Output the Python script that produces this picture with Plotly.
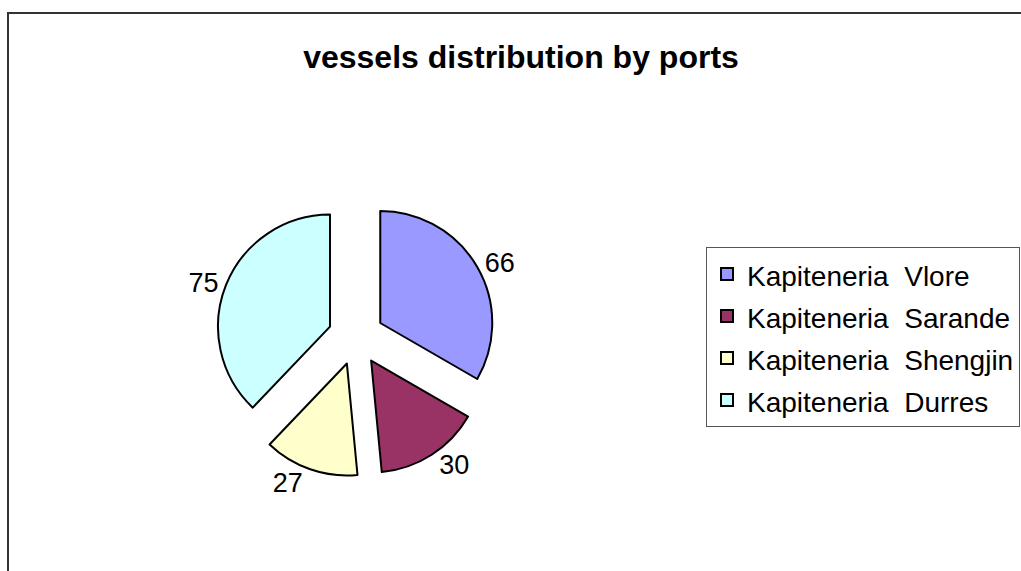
import plotly.graph_objects as go

W, H = 1021, 571

ports = ["Kapiteneria  Vlore", "Kapiteneria  Sarande", "Kapiteneria  Shengjin", "Kapiteneria  Durres"]
vessels = [66, 30, 27, 75]
colors = ["#9999FF", "#993366", "#FFFFCC", "#CCFFFF"]
pulls = [0.25, 0.25, 0.25, 0.25]

title_text = "vessels distribution by ports"

legend_labels = ['<span style="font-size:28px">' + p.replace(" ", "\u00a0") + "</span>" for p in ports]

# pie box in pixels (centre 356,337 ; radius 112 ; pull 0.25)
cx, cy, r = 356, 337, 112
half = r * (1 + max(pulls))
dom_x = [(cx - half) / W, (cx + half) / W]
dom_y = [1 - (cy + half) / H, 1 - (cy - half) / H]

fig = go.Figure(
    go.Pie(
        labels=legend_labels,
        values=vessels,
        sort=False,
        direction="clockwise",
        rotation=0,
        pull=pulls,
        marker=dict(colors=colors, line=dict(color="#000000", width=2)),
        textinfo="value",
        textposition="outside",
        textfont=dict(family="Liberation Sans, Arial", size=27, color="#000000"),
        domain=dict(x=dom_x, y=dom_y),
        hoverinfo="value+percent",
    )
)

fig.update_layout(
    width=W,
    height=H,
    margin=dict(l=0, r=0, t=0, b=0, autoexpand=False),
    paper_bgcolor="#FFFFFF",
    plot_bgcolor="#FFFFFF",
    font=dict(family="Liberation Sans, Arial", color="#000000"),
    title=dict(
        text="<b>" + title_text + "</b>",
        x=521 / W,
        xanchor="center",
        y=1 - 57 / H,
        yanchor="middle",
        font=dict(family="Liberation Sans, Arial", size=32, color="#000000"),
    ),
    showlegend=True,
    legend=dict(
        x=706 / W,
        xanchor="left",
        y=1 - 247 / H,
        yanchor="top",
        bgcolor="#FFFFFF",
        bordercolor="#555555",
        borderwidth=1,
        font=dict(family="Liberation Sans, Arial", size=30, color="#000000"),
        tracegroupgap=0,
    ),
    shapes=[
        dict(
            type="rect",
            xref="paper",
            yref="paper",
            x0=8 / W,
            x1=1.2,
            y0=-0.2,
            y1=1 - 13 / H,
            line=dict(color="#333333", width=2),
            fillcolor="rgba(0,0,0,0)",
            layer="below",
        )
    ],
)

fig.write_html(
    "out.html",
    config={"displayModeBar": False},
    post_script="document.body.style.margin='0';document.body.style.overflow='hidden';",
)
